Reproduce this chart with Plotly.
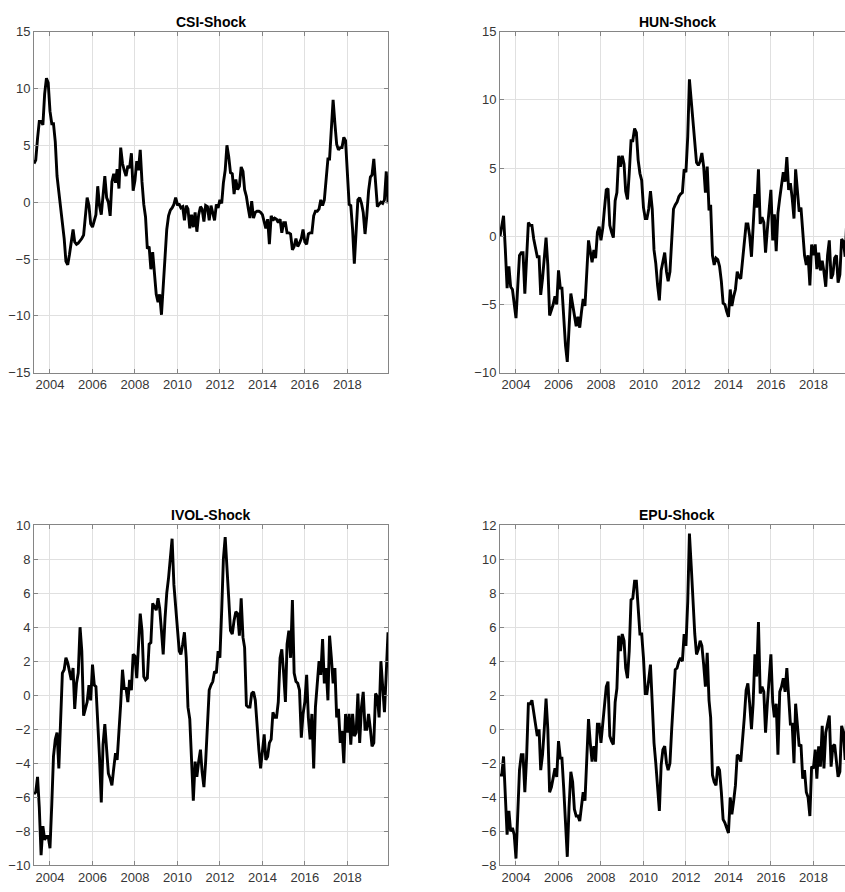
import pandas as pd
import plotly.graph_objects as go

# Monthly observation dates, April 2003 through December 2019
dates = pd.date_range("2003-04-01", "2019-12-01", freq="MS")

csi_shock = [
    3.4, 3.7, 5.6, 7.1, 7.1, 6.8, 9.5, 10.9, 10.5, 8.0,
    6.9, 6.9, 5.3, 2.3, 0.9, -0.5, -1.5, -3.2, -5.2, -5.5,
    -4.6, -3.5, -2.4, -3.5, -3.7, -3.6, -3.4, -3.2, -2.9, -1.4,
    0.4, -0.3, -1.9, -2.2, -1.5, -1.1, 1.4, -0.3, -1.1, 0.9,
    2.3, 0.4, 0.0, -1.2, 1.8, 2.5, 1.7, 2.9, 1.2, 4.8,
    3.4, 2.8, 2.3, 3.2, 3.0, 4.3, 1.0, 1.9, 3.6, 2.8,
    4.6, 1.8, -0.2, -1.3, -4.1, -3.9, -5.9, -4.4, -6.0, -8.1,
    -8.8, -8.1, -9.9, -7.6, -4.7, -2.4, -1.2, -0.7, -0.5, -0.2,
    0.4, -0.2, -0.2, -0.5, -0.4, -1.6, -0.3, -0.6, -2.3, -1.1,
    -2.2, -0.9, -2.6, -1.1, -0.4, -0.6, -1.7, -0.3, -0.4, -1.6,
    -0.3, -0.9, -1.6, -0.2, -0.5, 0.2, -0.1, 1.7, 2.8, 5.0,
    4.0, 2.6, 2.5, 0.7, 2.0, 1.1, 1.4, 3.1, 2.7, 1.1,
    0.5, -0.5, -1.4, 0.1, -1.4, -0.9, -0.8, -0.8, -0.9, -1.1,
    -1.7, -2.3, -1.5, -3.7, -1.2, -1.6, -1.4, -1.5, -1.8, -1.5,
    -2.7, -1.8, -1.8, -2.7, -2.7, -2.8, -4.2, -3.9, -3.2, -3.9,
    -3.6, -3.2, -2.4, -3.5, -3.7, -2.8, -2.7, -2.7, -1.2, -0.8,
    -0.8, -0.6, 0.2, -0.3, 0.2, 1.7, 3.8, 3.8, 6.3, 9.0,
    6.9, 5.1, 4.6, 4.8, 4.8, 5.7, 5.4, 2.2, -0.2, -0.3,
    -2.4, -5.4, -1.8, 0.2, 0.4, -0.1, -0.9, -2.8, -1.2, 1.0,
    2.2, 2.4, 3.8, 1.7, -0.4, -0.2, 0.0, -0.1, 0.2, 2.7, -0.1,
]

hun_shock = [
    0.0, 0.8, 1.5, -0.9, -3.8, -2.2, -3.7, -3.9, -4.8, -6.0,
    -3.6, -1.4, -1.2, -1.2, -4.2, -1.9, 1.0, 0.8, 0.8, -0.2,
    -0.9, -1.5, -1.5, -4.3, -3.1, -1.4, -0.1, -2.1, -5.8, -5.4,
    -5.0, -4.4, -5.0, -2.5, -3.8, -3.8, -6.0, -8.0, -9.2, -6.5,
    -4.2, -5.0, -5.9, -6.6, -5.9, -6.7, -5.5, -4.6, -5.1, -2.4,
    -0.3, -1.1, -1.9, -1.0, -1.6, 0.3, 0.7, -0.3, 0.6, 2.0,
    3.4, 3.5, 0.8, 0.3, -0.1, 2.6, 3.2, 5.9, 5.1, 5.9,
    5.3, 3.3, 2.7, 4.6, 7.0, 7.0, 7.9, 7.6, 5.6, 4.6,
    4.1, 2.1, 1.3, 1.3, 2.0, 3.3, 2.0, -1.0, -2.0, -3.6,
    -4.7, -2.5, -1.9, -1.2, -2.6, -3.3, -2.6, -0.2, 2.0, 2.3,
    2.5, 2.9, 3.1, 3.2, 4.9, 4.7, 7.3, 11.5, 9.9, 8.1,
    6.3, 5.4, 5.2, 5.5, 6.1, 5.1, 3.2, 5.1, 1.9, 2.3,
    -1.4, -2.1, -1.6, -1.7, -2.2, -3.3, -4.9, -5.0, -5.5, -5.9,
    -3.9, -5.1, -4.4, -3.9, -2.6, -3.0, -3.1, -1.8, -0.4, 0.9,
    0.9, 0.0, -1.5, 1.0, 3.1, 2.1, 4.9, 0.9, 1.4, 1.0,
    -1.2, 0.5, 2.0, 3.4, -0.3, 1.6, -1.1, 1.7, 2.8, 3.8,
    4.7, 4.0, 5.8, 3.4, 3.9, 2.8, 1.3, 4.9, 3.3, 1.8,
    2.1, 0.2, -1.4, -2.1, -1.4, -3.6, -0.6, -1.4, -0.6, -2.4,
    -1.2, -2.5, -1.8, -2.6, -3.7, -1.4, -0.3, -3.1, -2.8, -1.6,
    -1.4, -3.4, -2.8, -0.2, -0.4, -1.5, 1.6, 0.6, -0.7, 0.2, 0.9,
]

ivol_shock = [
    -5.8, -5.7, -4.8, -6.6, -9.4, -7.7, -8.5, -8.3, -8.3, -9.0,
    -6.4, -3.6, -2.6, -2.2, -4.3, -1.2, 1.3, 1.5, 2.2, 1.9,
    1.4, 0.9, 1.6, -0.8, 0.7, 1.3, 4.0, 2.6, -1.2, -0.8,
    -0.4, 0.6, -0.3, 1.8, 0.6, 0.5, -1.3, -3.6, -6.3, -2.9,
    -1.7, -3.4, -4.6, -4.9, -5.3, -4.3, -3.4, -3.8, -2.4, -0.5,
    1.5, 0.4, 0.4, -0.4, 0.9, 0.3, 2.4, 2.3, 1.0, 2.9,
    4.8, 3.8, 1.1, 0.9, 1.0, 3.0, 3.1, 5.4, 5.2, 5.0,
    5.7, 5.1, 3.8, 2.4, 4.5, 6.0, 6.9, 8.2, 9.2, 6.5,
    5.4, 3.9, 2.6, 2.4, 3.0, 3.7, 2.2, -0.7, -1.4, -3.8,
    -6.2, -3.9, -4.8, -3.9, -3.2, -4.5, -5.4, -3.9, -1.6, 0.3,
    0.6, 0.8, 1.4, 1.3, 2.6, 2.2, 5.0, 8.0, 9.3, 7.8,
    5.7, 3.8, 3.6, 4.4, 4.9, 4.8, 3.5, 5.7, 3.4, 2.8,
    -0.6, -0.7, -0.7, 0.1, 0.2, -0.3, -2.0, -3.2, -4.3, -3.3,
    -2.3, -3.8, -3.6, -2.8, -2.6, -1.0, -1.3, -1.3, -0.4, 2.2,
    2.7, 1.3, -0.4, 3.0, 3.8, 2.2, 5.6, 1.3, 0.8, 0.7,
    0.3, -2.5, -1.1, -0.4, 1.2, -1.3, -2.6, -1.1, -4.3, -0.7,
    0.6, 2.0, 1.2, 3.3, 0.7, 1.6, -0.3, 3.5, 2.2, 0.7,
    1.6, -1.3, -0.8, -2.8, -2.1, -4.0, -1.1, -2.2, -1.1, -2.9,
    -1.1, -2.4, -2.2, 0.1, -2.8, -0.7, 0.2, -2.0, -2.0, -1.1,
    -2.0, -3.0, -2.8, 0.1, -0.1, -1.3, 2.0, 0.1, -1.0, 1.3, 3.7,
]

epu_shock = [
    -2.7, -2.7, -1.6, -4.1, -6.2, -4.8, -6.0, -5.8, -6.2, -7.6,
    -4.7, -2.4, -1.5, -1.5, -3.7, -1.7, 1.5, 1.5, 1.7, 1.1,
    0.3, -0.4, 0.0, -2.4, -1.5, 0.0, 1.8, 0.0, -3.7, -3.4,
    -2.9, -2.3, -2.8, -0.7, -1.7, -1.7, -3.5, -6.0, -7.5, -4.6,
    -2.5, -3.1, -4.7, -5.1, -5.1, -5.4, -4.4, -3.7, -4.2, -1.9,
    0.6, -0.8, -1.9, -1.0, -1.9, 0.3, 0.3, -0.8, 0.2, 1.1,
    2.5, 2.8, -0.4, -0.7, -0.9, 1.6, 2.4, 5.5, 4.6, 5.6,
    5.2, 3.6, 3.0, 4.6, 7.6, 7.7, 8.7, 8.7, 7.3, 5.6,
    5.6, 4.2, 2.1, 2.1, 2.9, 3.8, 1.5, -0.8, -2.0, -3.5,
    -4.8, -2.1, -1.2, -1.0, -2.0, -2.4, -2.0, 0.0, 1.8, 3.5,
    3.6, 4.0, 4.2, 4.0, 5.6, 4.9, 7.5, 11.5, 9.6, 7.5,
    5.6, 4.4, 4.7, 5.2, 4.9, 3.8, 2.5, 4.5, 1.7, 0.7,
    -2.7, -3.1, -3.3, -2.2, -2.4, -3.7, -5.3, -5.5, -5.8, -6.1,
    -4.0, -5.0, -4.2, -3.3, -1.5, -1.6, -1.9, -0.8, 0.7, 2.3,
    2.7, 1.5, 0.0, 1.5, 4.4, 3.1, 6.3, 2.1, 2.5, 2.2,
    -0.2, 1.5, 3.0, 4.4, 1.6, 0.7, 1.5, -1.5, 2.2, 2.5,
    3.0, 2.2, 3.6, 1.9, 0.3, 0.3, -2.0, 1.5, 0.1, -1.0,
    -0.9, -2.9, -2.4, -3.7, -4.0, -5.1, -2.2, -2.3, -1.2, -2.9,
    -1.0, -2.2, 0.2, -2.3, -0.2, 0.3, 0.8, -2.2, -1.0, -0.9,
    -2.0, -2.8, -2.5, 0.2, -0.2, -1.8, 1.3, 0.4, -0.6, 0.5, 1.0,
]

panel_titles = ["CSI-Shock", "HUN-Shock", "IVOL-Shock", "EPU-Shock"]
panel_series = [csi_shock, hun_shock, ivol_shock, epu_shock]
y_ranges = [(-15, 15), (-10, 15), (-10, 10), (-8, 12)]
y_steps = [5, 5, 2, 2]
year_ticks = list(range(2004, 2019, 2))

W, H = 845, 892
# panel boxes in pixels: (left, right, top, bottom)
boxes = [
    (34, 388, 25, 372),
    (500, 845, 25, 372),
    (34, 388, 527, 873),
    (500, 845, 527, 873),
]
x_end_full = "2019-12-01"
x_end_clip = "2019-06-28"

FONT = "Liberation Sans, Arial, Helvetica, sans-serif"
AXIS_COLOR = "#858585"
GRID_COLOR = "#e0e0e0"
TICK_FONT = dict(family=FONT, size=13, color="#363636")

fig = go.Figure()
layout = dict(
    width=W, height=H,
    margin=dict(l=0, r=0, t=0, b=0),
    paper_bgcolor="white", plot_bgcolor="white",
    showlegend=False,
    annotations=[],
)

for k, (title, vals, yr, ys, box) in enumerate(
        zip(panel_titles, panel_series, y_ranges, y_steps, boxes)):
    n = k + 1
    xa = "xaxis" if n == 1 else f"xaxis{n}"
    ya = "yaxis" if n == 1 else f"yaxis{n}"
    xref = "x" if n == 1 else f"x{n}"
    yref = "y" if n == 1 else f"y{n}"
    left, right, top, bottom = box
    clipped = right >= W

    fig.add_trace(go.Scatter(
        x=dates, y=vals, mode="lines",
        line=dict(color="black", width=2.9),
        xaxis=xref, yaxis=yref, hoverinfo="skip",
    ))

    layout[xa] = dict(
        domain=[left / W, right / W],
        anchor=yref,
        type="date",
        range=["2003-04-01", x_end_clip if clipped else x_end_full],
        tickmode="array",
        tickvals=[f"{y}-01-01" for y in year_ticks],
        ticktext=[str(y) for y in year_ticks],
        ticks="inside", ticklen=4, tickcolor=AXIS_COLOR,
        showline=True, linecolor=AXIS_COLOR, linewidth=1,
        mirror="ticks",
        showgrid=True, gridcolor=GRID_COLOR, gridwidth=1,
        zeroline=False,
        tickfont=TICK_FONT,
        fixedrange=True,
    )
    layout[ya] = dict(
        domain=[1 - bottom / H, 1 - top / H],
        anchor=xref,
        range=list(yr),
        tickmode="linear", tick0=yr[0], dtick=ys,
        ticks="inside", ticklen=4, tickcolor=AXIS_COLOR,
        showline=True, linecolor=AXIS_COLOR, linewidth=1,
        mirror=False if clipped else "ticks",
        showgrid=True, gridcolor=GRID_COLOR, gridwidth=1,
        zeroline=False,
        tickfont=TICK_FONT,
        fixedrange=True,
    )

    full_right = left + 354
    layout["annotations"].append(dict(
        text=f"<b>{title}</b>",
        x=(left + full_right) / 2 / W,
        y=1 - (top - 10) / H,
        xref="paper", yref="paper",
        xanchor="center", yanchor="middle",
        showarrow=False,
        font=dict(family=FONT, size=14, color="black"),
    ))

fig.update_layout(**layout)
fig.write_html("out.html")
